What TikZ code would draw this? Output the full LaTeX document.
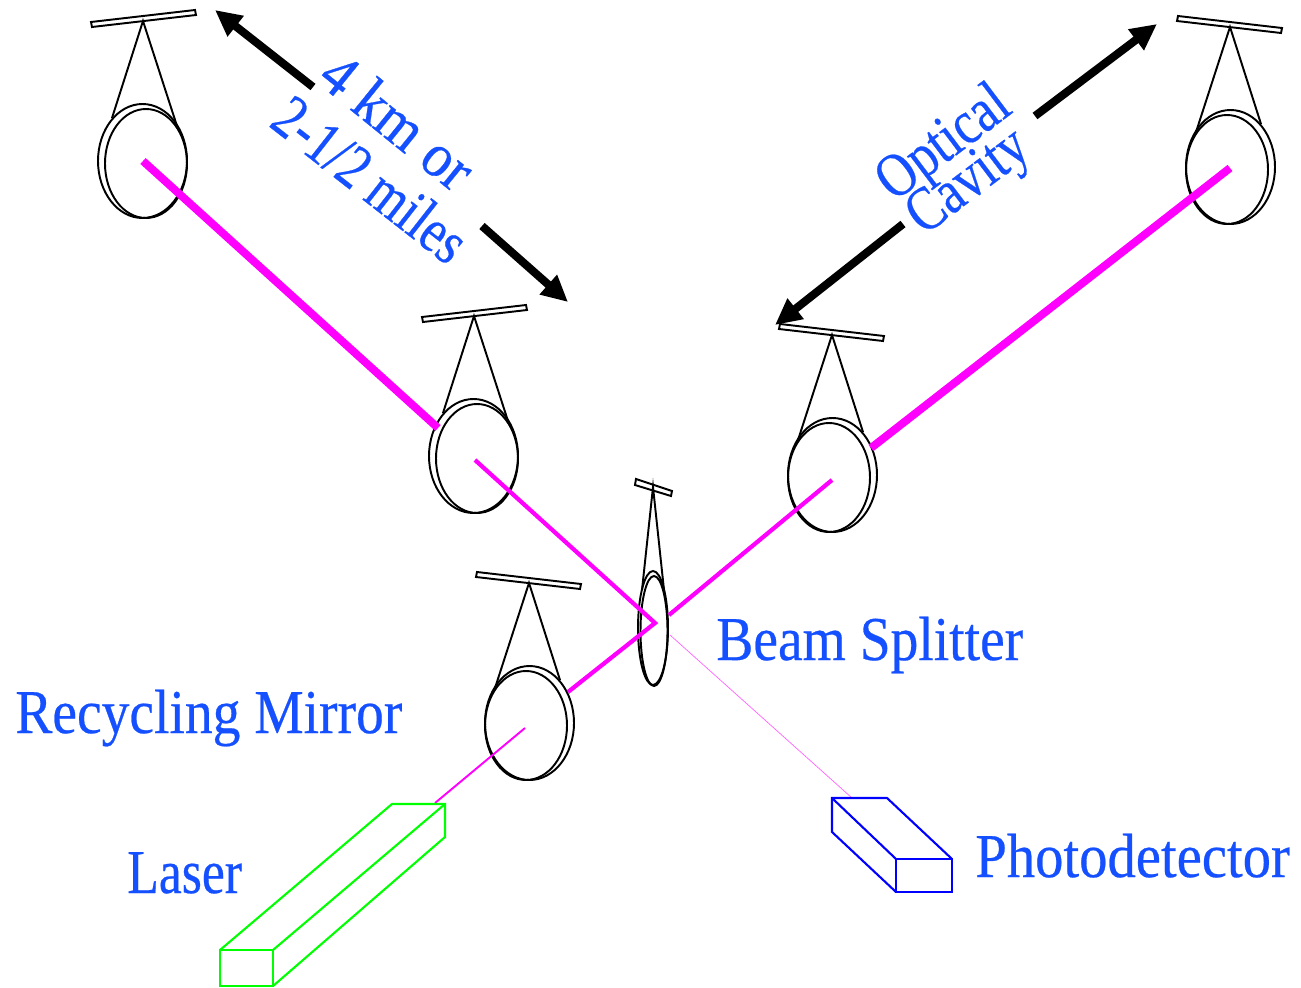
\documentclass[tikz,border=0pt]{standalone}
\usepackage{fontspec}
\usepackage{xcolor}
\setmainfont{Liberation Serif}[FakeStretch=0.89,FakeBold=0.4]
\usetikzlibrary{arrows.meta}
\definecolor{labelblue}{RGB}{20,80,255}
\definecolor{beampink}{RGB}{255,0,255}
\tikzset{
  wire/.style={black, line width=1.1pt},
  beam/.style={beampink, line width=#1, line cap=butt},
  span/.style={black, line width=4.6pt, -{Triangle[length=15pt,width=14pt]}},
  lbl/.style={labelblue, font=\fontsize{35.5}{36}\selectfont, inner sep=0pt},
}
\begin{document}
\begin{tikzpicture}[x=0.02cm, y=-0.02cm]
\useasboundingbox (0,0) rectangle (1301,987);
% suspended mirrors: apex x, apex y, side of the double outline
\foreach \ax/\ay/\s in {143/21/1, 474/316/1, 832/335/-1, 1230/27/-1, 529/583/-1} {
  \begin{scope}[shift={(\ax,\ay)}, xscale=\s]
    \draw[wire] (-52,1) -- (52,-11) -- (53,-6) -- (-51,6) -- cycle;
    \draw[wire] (-31,97) -- (0,0) -- (34,105);
    \draw[wire] (-0.5,140) ellipse (44.5 and 57);
    \draw[wire] (3,142.5) ellipse (41 and 54.5);
  \end{scope}
}
% beam splitter
\draw[wire] (636,479) -- (672,491) -- (671,496) -- (635,485) -- cycle;
\draw[wire] (642,590) -- (653,487) -- (664,590);
\draw[wire] (653,628) ellipse (15 and 57);
\draw[wire] (654,631) ellipse (13.5 and 55);
% beams
\coordinate (endL) at (143,161);
\coordinate (frontL) at (438,428);
\coordinate (endR) at (1230,168);
\coordinate (frontR) at (871,448);
\coordinate (midL) at (475,460);
\coordinate (midR) at (832,480);
\coordinate (split) at (655,623);
\coordinate (bsR) at (669,615);
\coordinate (rmEdge) at (568,692);
\coordinate (rmIn) at (525,728);
\coordinate (laserOut) at (435,803);
\coordinate (bsOut) at (670,635);
\coordinate (pdIn) at (852,798);
\draw[beam=4.5pt] (endL) -- (frontL);
\draw[beam=4.5pt] (endR) -- (frontR);
\draw[beam=2.4pt] (midL) -- (split) -- (rmEdge);
\draw[beam=2.4pt] (bsR) -- (midR);
\draw[beam=1.1pt] (rmIn) -- (laserOut);
\draw[beampink!60, line width=0.4pt] (bsOut) -- (pdIn);
% laser
\draw[green, line width=1.2pt] (220,950) rectangle (273,986);
\draw[green, line width=1.2pt] (220,950) -- (392,804) -- (445,804) -- (445,837) -- (273,986);
\draw[green, line width=1.2pt] (273,950) -- (445,804);
% photodetector
\draw[blue, line width=1.2pt] (896,859) rectangle (952,892);
\draw[blue, line width=1.2pt] (896,892) -- (832,832) -- (832,798) -- (887,798) -- (952,859);
\draw[blue, line width=1.2pt] (832,798) -- (896,859);
% arm arrows
\draw[span] (313,87) -- (215,10);
\draw[span] (482,226) -- (568,302);
\draw[span] (1035,116) -- (1157,24);
\draw[span] (903,224) -- (775,325);
% labels
\node[lbl, rotate=-39] (armkm) at (398,121) {\scalebox{1.03}[1]{4 km or}};
\node[lbl, rotate=-38] (armmi) at (371,179) {\scalebox{0.91}[1]{2-1/2 miles}};
\node[lbl, rotate=37] (optical) at (945,145) {\scalebox{0.92}[1]{Optical}};
\node[lbl, rotate=37] (cavity) at (970,184) {\scalebox{0.92}[1]{Cavity}};
\node[lbl, anchor=base west] (beamsp) at (716,660) {Beam Splitter};
\node[lbl, anchor=base west] (recycle) at (15,733) {Recycling Mirror};
\node[lbl, anchor=base west] (laser) at (127,893) {\scalebox{0.93}[1]{Laser}};
\node[lbl, anchor=base west] (photo) at (975,877) {\scalebox{1.02}[1]{Photodetector}};
\end{tikzpicture}
\end{document}
